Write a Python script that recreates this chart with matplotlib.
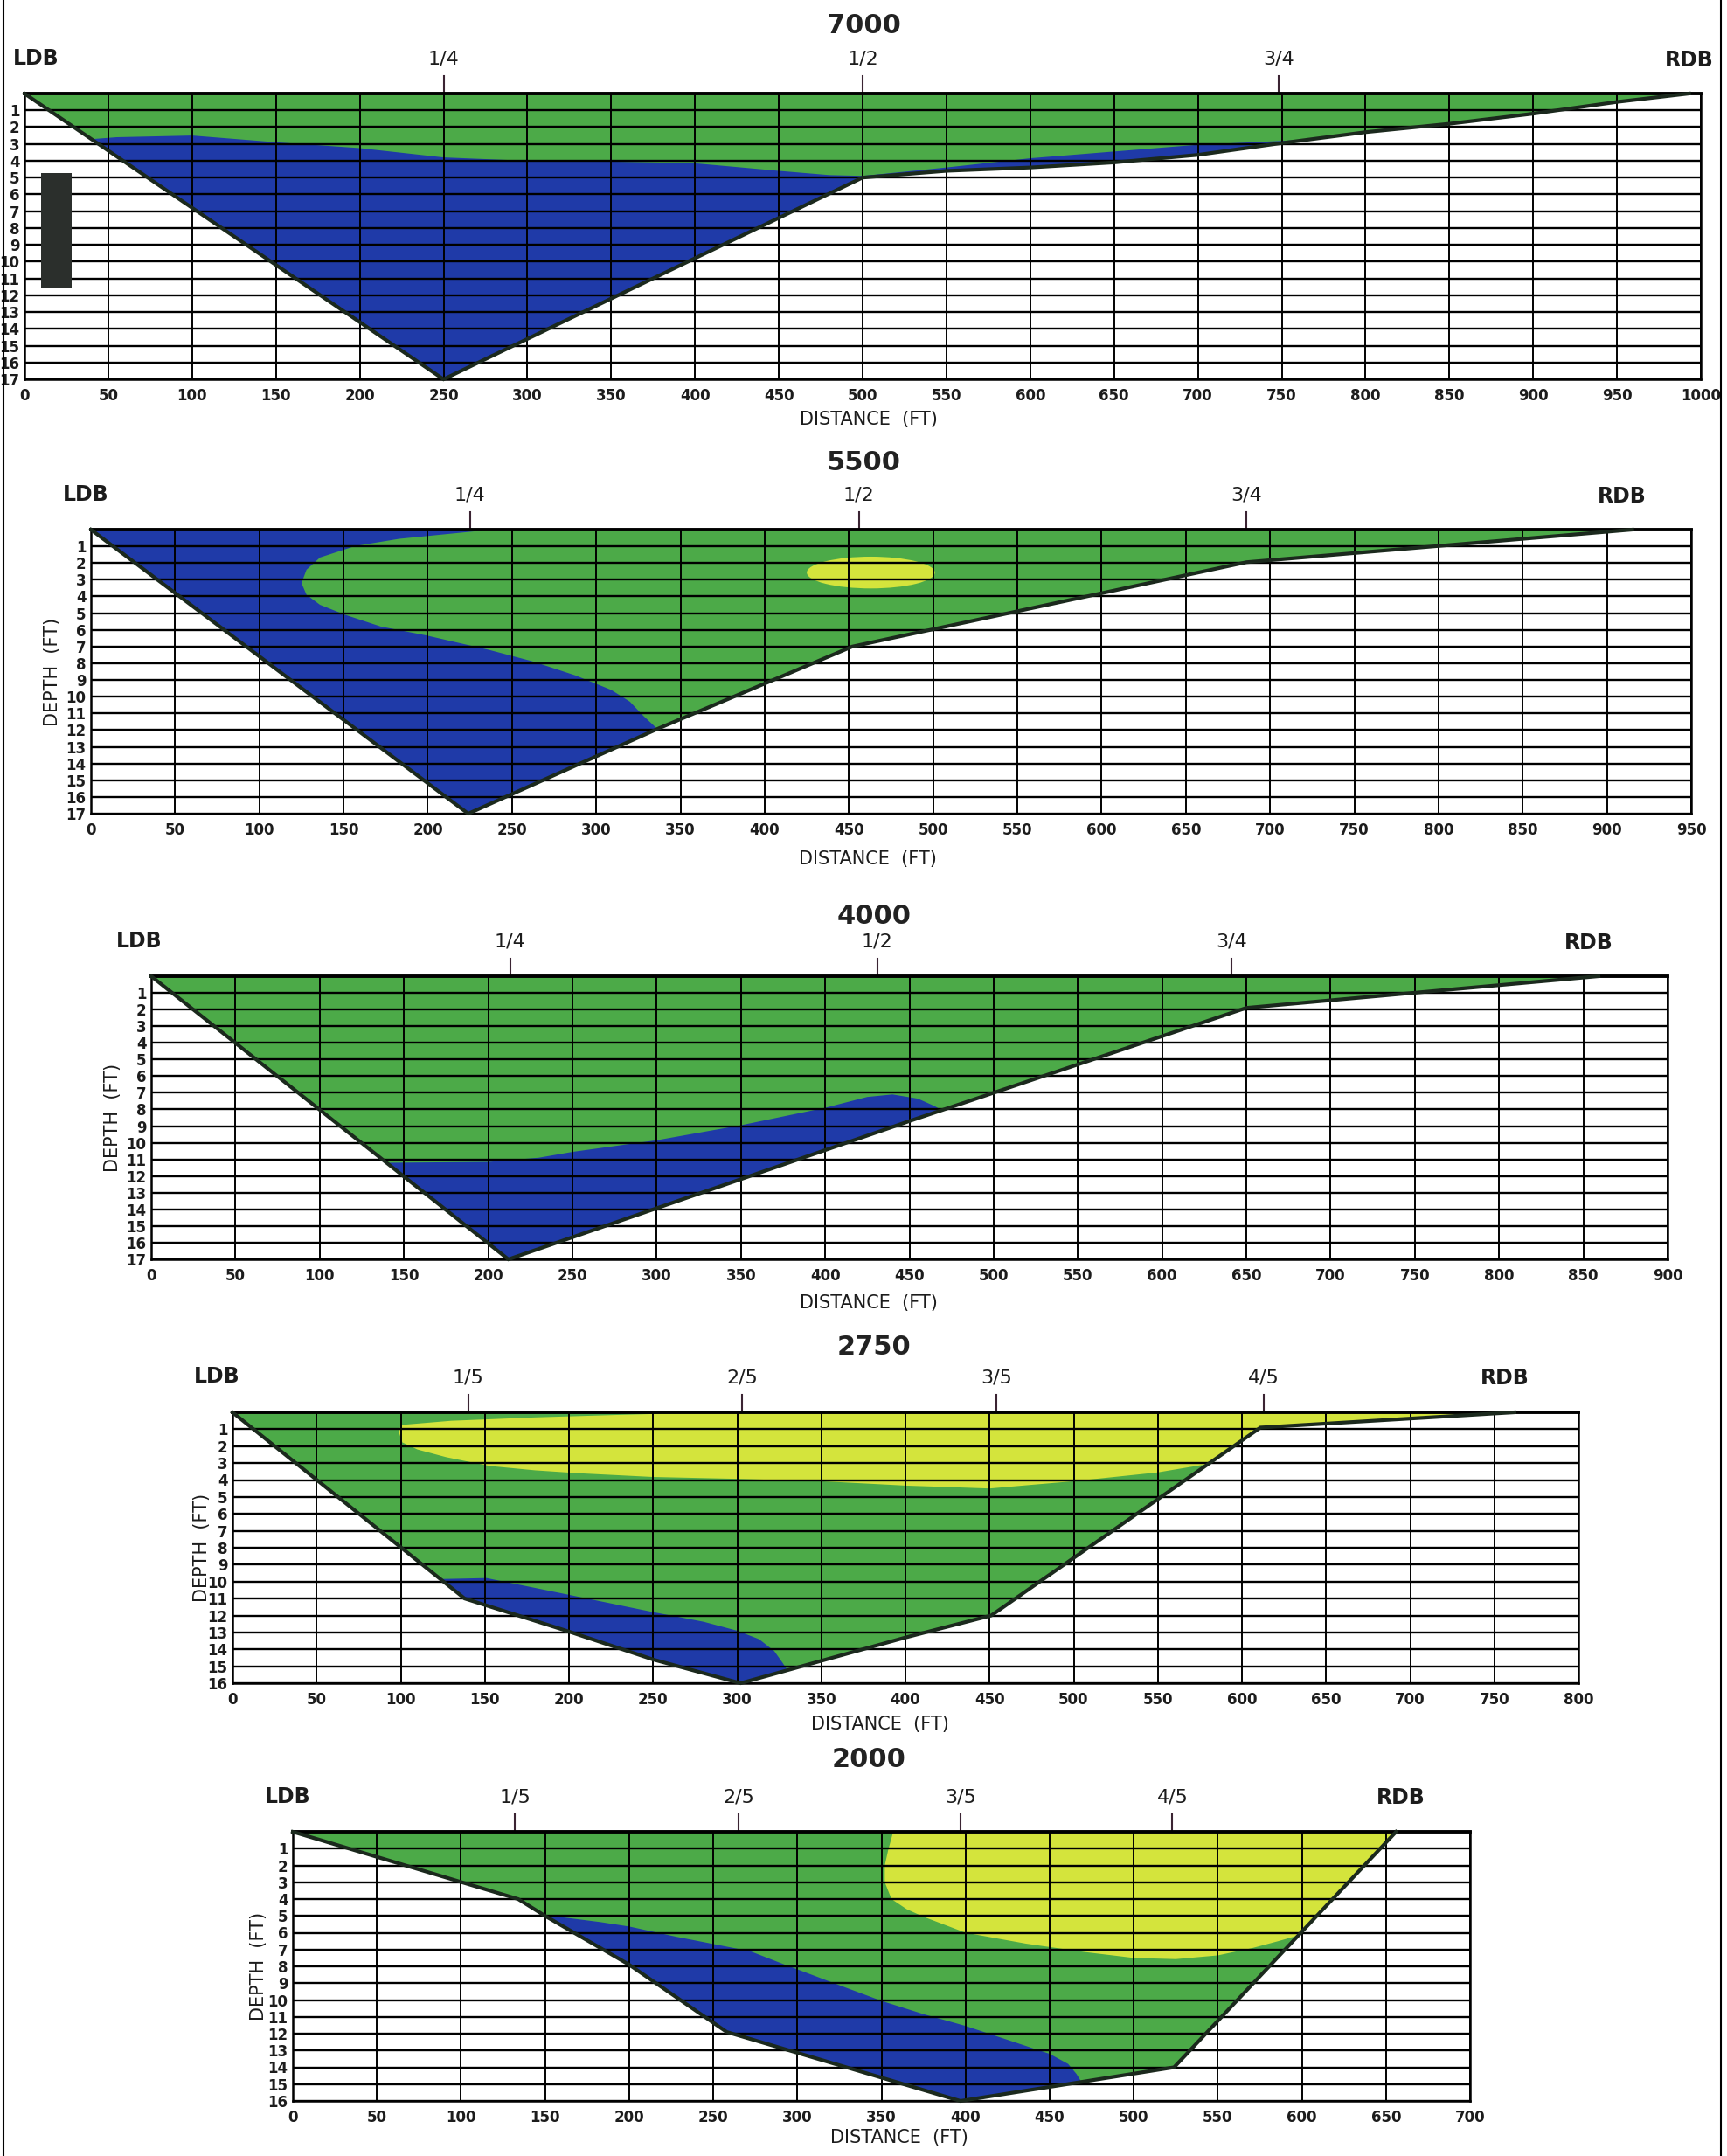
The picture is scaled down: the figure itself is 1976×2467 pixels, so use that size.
import numpy as np
import matplotlib
matplotlib.use("Agg")
import matplotlib.pyplot as plt
from matplotlib.patches import Polygon, Ellipse, Rectangle
from matplotlib.lines import Line2D

# ---- data (distance ft, depth ft) ----
flows = ["7000", "5500", "4000", "2750", "2000"]
x_max = [1000, 950, 900, 800, 700]
d_max = [17, 17, 17, 16, 16]

bed_x_7000 = [0, 250, 500, 550, 600, 650, 700, 750, 800, 850, 900, 950, 993]
bed_d_7000 = [0, 17, 5.0, 4.6, 4.4, 4.1, 3.65, 2.95, 2.3, 1.8, 1.2, 0.5, 0]
bed_x_5500 = [0, 224, 337, 452, 686, 915]
bed_d_5500 = [0, 17, 11.9, 7.0, 1.95, 0]
bed_x_4000 = [0, 212, 450, 650, 859]
bed_d_4000 = [0, 17, 8.7, 1.9, 0]
bed_x_2750 = [0, 138, 200, 250, 302, 400, 451, 611, 762]
bed_d_2750 = [0, 11.0, 12.95, 14.6, 16, 13.3, 12.0, 0.9, 0]
bed_x_2000 = [0, 134, 150, 200, 258, 397, 467, 524, 656]
bed_d_2000 = [0, 4.0, 5.0, 7.9, 11.9, 16, 14.9, 14.0, 0]

# blue (slow) zone upper edges
blue_x_7000 = [30, 42, 55, 100, 150, 200, 250, 300, 350, 400, 450, 480, 500, 550, 600, 650, 700, 765, 775]
blue_d_7000 = [2.7, 2.7, 2.6, 2.5, 2.9, 3.25, 3.8, 4.0, 4.05, 4.15, 4.6, 4.85, 4.9, 4.4, 3.85, 3.45, 3.05, 2.75, 2.75]
blue_x_5500 = [245, 233, 209, 183, 157, 136, 128, 125, 128, 136, 151, 172, 199, 236, 262, 288, 309, 320, 328, 336, 341]
blue_d_5500 = [-1, 0.05, 0.29, 0.55, 0.98, 1.67, 2.4, 3.2, 3.9, 4.5, 5.1, 5.8, 6.33, 7.19, 7.88, 8.74, 9.6, 10.3, 11.15, 11.9, 12.3]
blue_x_4000 = [135, 142, 200, 230, 250, 300, 350, 400, 425, 440, 455, 465, 475]
blue_d_4000 = [11.25, 11.2, 11.15, 10.9, 10.55, 9.85, 8.95, 7.9, 7.25, 7.1, 7.35, 7.8, 8.4]
blue_x_2750 = [120, 128, 151, 201, 250, 280, 300, 313, 322, 327, 331]
blue_d_2750 = [9.85, 9.84, 9.79, 10.8, 11.8, 12.37, 12.9, 13.4, 14.1, 14.8, 15.4]
blue_x_2000 = [145, 150, 183, 200, 228, 250, 272, 290, 329, 350, 375, 400, 429, 450, 461, 466, 471]
blue_d_2000 = [4.9, 4.95, 5.37, 5.63, 6.24, 6.67, 7.1, 7.8, 9.27, 10.05, 10.84, 11.54, 12.5, 13.2, 13.8, 14.4, 15.2]

# yellow (fast) zones
yel_5500 = (463, 2.57, 76, 1.9)  # centre x, centre depth, width, height
yel_x_2750 = [100, 130, 180, 230, 280, 290, 800, 800, 590, 580, 550, 500, 450, 400, 350, 300, 250, 206, 180, 153, 127, 110, 101, 99]
yel_d_2750 = [0.75, 0.5, 0.3, 0.15, 0.02, -1, -1, 3.0, 3.0, 3.05, 3.55, 4.07, 4.5, 4.33, 4.07, 3.93, 3.82, 3.6, 3.43, 3.17, 2.65, 2.2, 1.78, 1.2]
yel_x_2000 = [357, 357, 354, 352, 352, 356, 365, 375, 400, 436, 471, 500, 525, 550, 571, 586, 600, 612, 720, 720]
yel_d_2000 = [-1, 0, 1.1, 2.0, 3.0, 4.0, 4.6, 5.05, 6.0, 6.65, 7.15, 7.5, 7.57, 7.35, 6.9, 6.5, 6.1, 6.2, 6.2, -1]

# fraction-of-flow markers along the surface
mark_x = [[250, 500, 748], [225, 456, 686], [213, 431, 641], [140, 303, 454, 613], [132, 265, 397, 523]]
mark_lab = [["1/4", "1/2", "3/4"]] * 3 + [["1/5", "2/5", "3/5", "4/5"]] * 2

beds = [(bed_x_7000, bed_d_7000), (bed_x_5500, bed_d_5500), (bed_x_4000, bed_d_4000),
        (bed_x_2750, bed_d_2750), (bed_x_2000, bed_d_2000)]
blues = [(blue_x_7000, blue_d_7000), (blue_x_5500, blue_d_5500), (blue_x_4000, blue_d_4000),
         (blue_x_2750, blue_d_2750), (blue_x_2000, blue_d_2000)]
yellows = [None, None, None, (yel_x_2750, yel_d_2750), (yel_x_2000, yel_d_2000)]

# ---- page layout (pixels on the 1976x2467 page) ----
W, H = 1976, 2467
boxes = [(28, 107, 1946, 434), (104, 606, 1935, 931), (173, 1117, 1908, 1441),
         (266, 1616, 1806, 1926), (335, 2096, 1682, 2404)]
title_xy = [(988, 30), (988, 529), (1000, 1048), (1000, 1542), (994, 2014)]
dist_xy = [(994, 480), (993, 983), (994, 1491), (1007, 1973), (1029, 2446)]
depth_x = [None, 60, 129, 231, 296]
ldb_x = [7, -3, -7, -9, -3]
rdb_x = [993, 909, 853, 756, 659]

GREEN = "#4caa48"
BLUE = "#1f3aa8"
YELLOW = "#d4e43c"
BEDC = "#1b291d"
INK = "#1c1c1c"
NARROW = ["DejaVu Sans"]

fig = plt.figure(figsize=(W / 100, H / 100), dpi=100)
fig.patch.set_facecolor("white")

for i in range(5):
    l, t, r, b = boxes[i]
    ax = fig.add_axes([l / W, 1 - b / H, (r - l) / W, (b - t) / H])
    ax.set_xlim(0, x_max[i])
    ax.set_ylim(d_max[i], 0)

    bx, bd = beds[i]
    chan = Polygon(np.column_stack([bx, bd]), closed=True, fc=GREEN, ec="none", zorder=1)
    ax.add_patch(chan)

    # blue zone: upper edge from the picture, closed well below the bed, clipped to the channel
    ux, ud = blues[i]
    left = min(ux) - 20
    pts = [(left, ud[0])] if i != 1 else [(-20, -1)]
    pts += list(zip(ux, ud))
    pts += [(ux[-1], d_max[i] + 3), (left if i != 1 else -20, d_max[i] + 3)]
    bp = Polygon(pts, closed=True, fc=BLUE, ec="none", zorder=1.5)
    ax.add_patch(bp)
    bp.set_clip_path(chan)

    if yellows[i] is not None:
        yx, yd = yellows[i]
        yp = Polygon(np.column_stack([yx, yd]), closed=True, fc=YELLOW, ec="none", zorder=1.6)
        ax.add_patch(yp)
        yp.set_clip_path(chan)
    if i == 1:
        cx, cd, ew, eh = yel_5500
        ax.add_patch(Ellipse((cx, cd), ew, eh, fc=YELLOW, ec="none", zorder=1.6))

    # grid on top of the colour
    ax.set_xticks(np.arange(0, x_max[i] + 1, 50))
    ax.set_yticks(np.arange(1, d_max[i] + 1))
    ax.set_yticklabels([str(v) for v in range(1, d_max[i] + 1)],
                       fontsize=12, fontweight="bold", family=NARROW)
    ax.set_xticklabels([str(v) for v in range(0, x_max[i] + 1, 50)],
                       fontsize=12, fontweight="bold", family=NARROW)
    ax.tick_params(length=0, pad=4, colors=INK)
    ax.tick_params(axis="x", pad=7)
    ax.grid(True, axis="y", color="black", lw=1.7)
    ax.grid(True, axis="x", color="black", lw=1.4)
    ax.set_axisbelow(False)
    for s in ax.spines.values():
        s.set_linewidth(1.8)
        s.set_color("black")
    ax.spines["top"].set_linewidth(2.8)

    ax.plot(bx, bd, color=BEDC, lw=3.0, zorder=4, solid_joinstyle="miter", clip_on=False)

    # flow fraction markers
    for fx, lab in zip(mark_x[i], mark_lab[i]):
        ax.plot([fx, fx], [0, -1.05], color="#3b2433", lw=1.5, clip_on=False)
        ax.text(fx, -2.05, lab, ha="center", va="center", fontsize=16, family=NARROW, color=INK)

    ax.text(ldb_x[i], -2.1, "LDB", ha="center", va="center", fontsize=17, fontweight="heavy", color=INK)
    ax.text(rdb_x[i], -2.0, "RDB", ha="center", va="center", fontsize=17, fontweight="heavy", color=INK)

    tx, ty = title_xy[i]
    fig.text(tx / W, 1 - ty / H, flows[i], ha="center", va="center", fontsize=22,
             fontweight="heavy", color="#222222")
    dx, dy = dist_xy[i]
    fig.text(dx / W, 1 - dy / H, "DISTANCE  (FT)", ha="center", va="center", fontsize=15,
             family=NARROW, color=INK)
    if depth_x[i] is not None:
        fig.text(depth_x[i] / W, 1 - (t + b) / 2 / H, "DEPTH  (FT)", ha="center", va="center",
                 rotation=90, fontsize=15, family=NARROW, color=INK)

# dark block pasted over the first panel and the page edges of the scan
fig.add_artist(Rectangle((47 / W, 1 - 330 / H), 35 / W, 132 / H, transform=fig.transFigure,
                         fc="#2b2f2c", ec="none", zorder=10))
fig.add_artist(Line2D([4 / W, 4 / W], [0, 1], transform=fig.transFigure, color="black", lw=1.5))
fig.add_artist(Line2D([1969 / W, 1969 / W], [0, 1], transform=fig.transFigure, color="black", lw=1.5))

fig.savefig("out.png", dpi=100, facecolor="white")
